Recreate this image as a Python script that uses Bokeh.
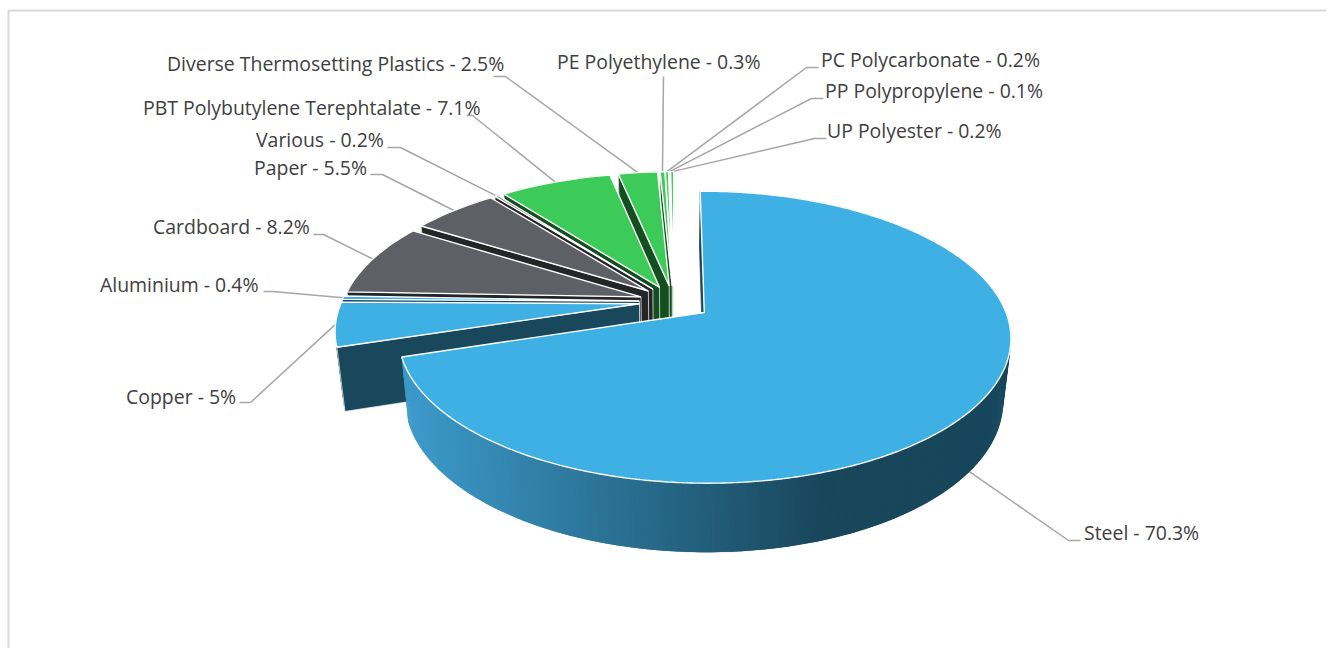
import math
from bokeh.plotting import figure
from bokeh.models import Range1d, ColumnDataSource
from bokeh.core.properties import value
from bokeh.embed import file_html
from bokeh.resources import INLINE

categories = ["Steel", "Copper", "Aluminium", "Cardboard", "Paper", "Various",
              "PBT Polybutylene Terephtalate", "Diverse Thermosetting Plastics",
              "PE Polyethylene", "PC Polycarbonate", "PP Polypropylene", "UP Polyester"]
shares = [70.3, 5, 0.4, 8.2, 5.5, 0.2, 7.1, 2.5, 0.3, 0.2, 0.1, 0.2]
top_colors = ["#3EB0E4", "#3EB0E4", "#3EB0E4", "#5F6066", "#5F6066", "#5F6066",
              "#3CCB58", "#3CCB58", "#3CCB58", "#3CCB58", "#3CCB58", "#3CCB58"]
side_colors = ["#19475C", "#19475C", "#19475C", "#232527", "#232527", "#232527",
               "#14501F", "#14501F", "#14501F", "#14501F", "#14501F", "#14501F"]

# layout: label left x and centre y, leader stub start x, bend x, stub y
label_x = [1083.5, 125.5, 99.5, 152.5, 253.5, 255.5, 142.5, 166.5, 556.5, 820.5, 824.5, 826.5]
label_y = [532, 396, 284, 226, 167, 139, 107, 63, 61, 59, 90, 130]
stub_x = [1080, 239, 263, 313, 370, 387, 466, 493, 663, 818, 823, 826]
elbow_x = [1068, 250, 272, 323, 382, 400, 472, 505, 663, 806, 811, 814]
elbow_y = [540, 402, 291, 234, 174, 147, 115, 76, 76, 67, 98, 138]

CX, CY, RX, RY, K = 673.0, 301.5, 298.0, 138.3, 0.167
VX = 688.0  # vanishing column of the perspective
EXPLODE, EXPLODE_MAIN, START = 0.115, 0.127, -90.4
OTHER_DY = -0.004
FX, FY, DEPTH = 0.976, 1.036, 62.5
X0 = (CX - VX) / RX


def proj(x, y, low=False):
    w = 1 - K * y
    if low:
        return VX + FX * RX * (x + X0) / w + (1 - FX) * (CX - VX), CY + DEPTH + FY * RY * y / w
    return VX + RX * (x + X0) / w, CY + RY * y / w


def mix(a, b, t):
    t = max(0.0, min(1.0, t))
    ca = [int(a[i:i + 2], 16) for i in (1, 3, 5)]
    cb = [int(b[i:i + 2], 16) for i in (1, 3, 5)]
    return "#%02x%02x%02x" % tuple(round(u + (v - u) * t) for u, v in zip(ca, cb))


spans = []
a = START
for s in shares:
    d = s * 3.6
    spans.append((a, a + d))
    a += d

P = dict(xs=[], ys=[], fill=[], line=[], lw=[])


def add(pts, fill, line=None, lw=0.6):
    P["xs"].append([q[0] for q in pts])
    P["ys"].append([q[1] for q in pts])
    P["fill"].append(fill)
    P["line"].append(line or fill)
    P["lw"].append(lw)


leader_x, leader_y = [], []
for i in range(len(shares) - 1, -1, -1):
    a0, a1 = spans[i]
    mid = math.radians((a0 + a1) / 2)
    e = EXPLODE_MAIN if i == 0 else EXPLODE
    ox, oy = e * math.cos(mid), e * math.sin(mid) + (0 if i == 0 else OTHER_DY)
    n = max(2, int((a1 - a0) / 0.5) + 1) if i == 0 else max(2, int((a1 - a0) / 2) + 1)
    angs = [math.radians(a0 + (a1 - a0) * j / n) for j in range(n + 1)]
    rim = [(ox + math.cos(t), oy + math.sin(t)) for t in angs]
    # outer wall (each quad overlaps the next one to hide seams)
    for j in range(n):
        q = [proj(*rim[j]), proj(*rim[min(j + 2, n)]), proj(*rim[min(j + 2, n)], True), proj(*rim[j], True)]
        colour = side_colors[i]
        if i == 0:
            colour = mix("#3D9BCB", side_colors[i], (q[0][0] + q[3][0]) / 2 / 414 - 408 / 414)
        add(q, colour, lw=0.1)
    # radial face on the starting edge
    add([proj(ox, oy), proj(*rim[0]), proj(*rim[0], True), proj(ox, oy, True)], side_colors[i],
        "#FFFFFF" if i > 0 else None, 0.7)
    # top surface
    add([proj(ox, oy)] + [proj(*r) for r in rim], top_colors[i], "#FFFFFF", 1.4)
    # leader: the front slice's leader meets the lower edge of its wall
    rx, ry = proj(ox + math.cos(mid), oy + math.sin(mid), i == 0)
    leader_x.append([stub_x[i], elbow_x[i], rx])
    leader_y.append([elbow_y[i], elbow_y[i], ry])

p = figure(width=1326, height=648, output_backend="svg", toolbar_location=None,
           x_range=Range1d(0, 1326), y_range=Range1d(648, 0),
           x_axis_type=None, y_axis_type=None, min_border=0)
p.grid.visible = False
p.outline_line_color = None
p.background_fill_color = "#FFFFFF"

# frame
p.line([8, 8, 1326], [648, 10, 10], line_color="#D9D9D9", line_width=2)

p.multi_line(leader_x, leader_y, line_color="#A6A6A6", line_width=1.5)
src = ColumnDataSource(P)
p.patches("xs", "ys", source=src, fill_color="fill", line_color="line", line_width="lw")

labels = []
for c, s in zip(categories, shares):
    labels.append(f"{c} - {s}%")
p.text(label_x, label_y, text=labels, text_font=value("Open Sans"), text_font_size="19.45px",
       text_color="#404040", text_align="left", text_baseline="middle")

open("out.html", "w").write(file_html(p, INLINE))
